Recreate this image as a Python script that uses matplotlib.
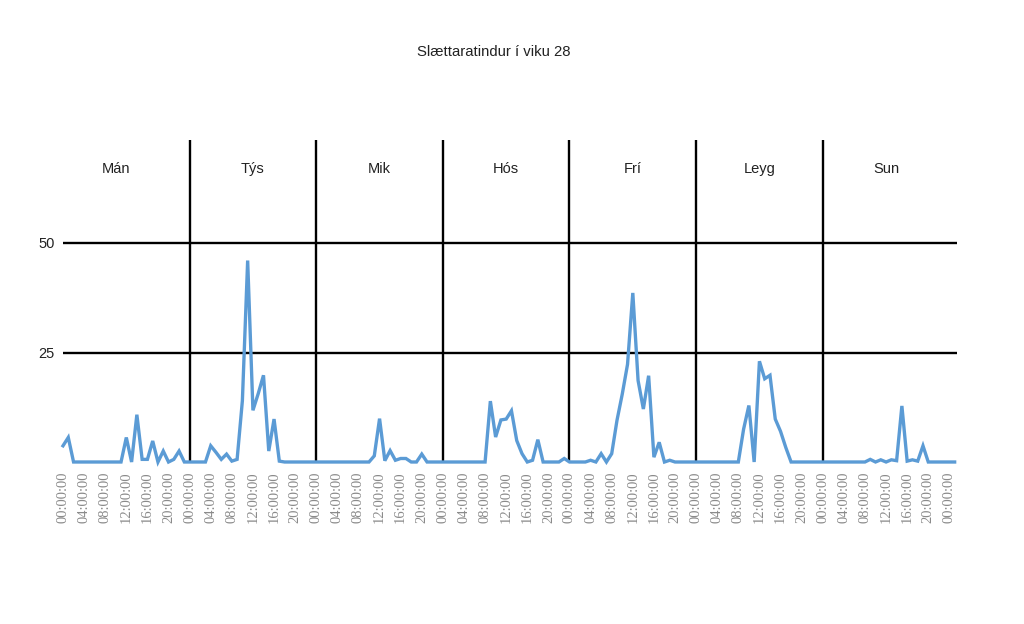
import matplotlib
matplotlib.use("Agg")
import matplotlib.pyplot as plt
import numpy as np

title = "Slættaratindur í viku 28"
days = ["Mán", "Týs", "Mik", "Hós", "Frí", "Leyg", "Sun"]
y_ticks = [25, 50]

# hourly values per day (00..23)
man = [3.7, 5.6, 0, 0, 0, 0, 0, 0, 0, 0, 0, 0, 5.6, 0, 10.8, 0.6, 0.6, 4.8, 0, 2.5, 0, 0.6, 2.5, 0]
tys = [0, 0, 0, 0, 3.7, 2.2, 0.6, 1.8, 0.2, 0.6, 14, 46, 11.8, 15.6, 19.8, 2.5, 9.8, 0.2, 0, 0, 0, 0, 0, 0]
mik = [0, 0, 0, 0, 0, 0, 0, 0, 0, 0, 0, 1.4, 9.9, 0.3, 2.6, 0.4, 0.8, 0.8, 0, 0, 1.8, 0, 0, 0]
hos = [0, 0, 0, 0, 0, 0, 0, 0, 0, 13.9, 5.7, 9.6, 9.8, 11.7, 4.9, 1.9, 0, 0.4, 5.1, 0, 0, 0, 0, 0.8]
fri = [0, 0, 0, 0, 0.4, 0, 1.9, 0, 1.9, 9.5, 15.5, 22.3, 38.6, 18.6, 12.1, 19.7, 1.1, 4.5, 0, 0.4, 0, 0, 0, 0]
leyg = [0, 0, 0, 0, 0, 0, 0, 0, 0, 7.5, 12.9, 0, 23, 19, 19.8, 9.8, 7, 3.3, 0, 0, 0, 0, 0, 0]
sun = [0, 0, 0, 0, 0, 0, 0, 0, 0, 0.6, 0, 0.5, 0, 0.5, 0.3, 12.8, 0.2, 0.5, 0.2, 3.7, 0, 0, 0, 0]
tail = [0, 0]

values = man + tys + mik + hos + fri + leyg + sun + tail
hours = np.arange(len(values))

tick_hours = list(range(0, 169, 4))
tick_labels = [f"{h % 24:02d}:00:00" for h in tick_hours]

W, H = 1024, 624
fig = plt.figure(figsize=(W / 100, H / 100), dpi=100)
px_per_h = 5.276
left, right_px = 63, 63 + 169.5 * px_per_h
bottom_px, top_px = 462, 140
ax = fig.add_axes([left / W, (H - bottom_px) / H, (right_px - left) / W, (bottom_px - top_px) / H])
ymax = (bottom_px - top_px) / 4.38
ax.set_xlim(0, 169.5)
ax.set_ylim(0, ymax)

for s in ax.spines.values():
    s.set_visible(False)

for yv in y_ticks:
    ax.axhline(yv, color="black", lw=1.7, zorder=1)
ax.vlines([24 * k for k in range(1, 7)], 0, ymax, color="black", lw=1.7, zorder=1)

ax.plot(hours, values, color="#5B9BD5", lw=2.4, clip_on=False, zorder=3,
        solid_joinstyle="miter")

label_x = [24 * i + 12 for i in range(len(days))]
label_x[0] -= 2
for xv, d in zip(label_x, days):
    ax.text(xv, 67, d, ha="center", va="center", fontsize=10.5,
            family="Liberation Sans", color="#222222")

ax.set_yticks(y_ticks)
ax.set_yticklabels([str(v) for v in y_ticks], fontsize=10.5, family="Liberation Sans", color="#222222")
ax.tick_params(axis="y", length=0, pad=6)
ax.set_xticks(tick_hours)
ax.set_xticklabels(tick_labels, rotation=90, fontsize=10.5, family="Liberation Serif", color="#8a8a8a")
ax.tick_params(axis="x", length=0, pad=7)

fig.text(494 / W, 1 - 51.7 / H, title, ha="center", va="center", fontsize=10.7,
         family="Liberation Sans", color="#222222")

fig.savefig("out.png", dpi=100)
